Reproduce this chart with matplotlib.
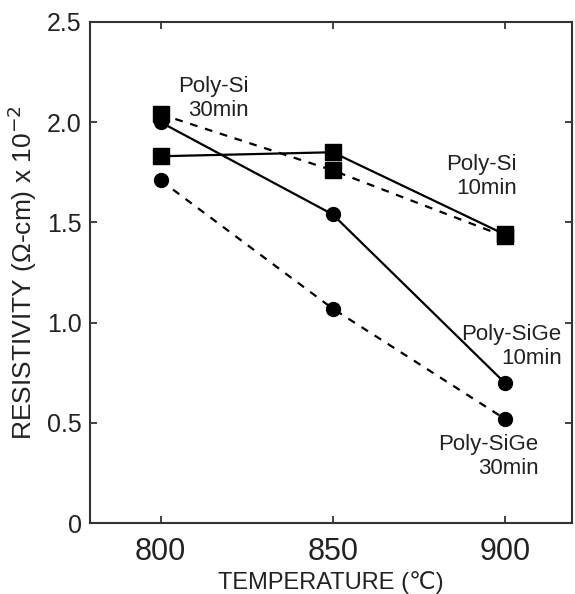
import matplotlib
matplotlib.use('Agg')
import matplotlib.pyplot as plt

plt.rcParams['font.family'] = ['Liberation Sans', 'DejaVu Sans']

# Temperatura de recocido (°C)
temperatura = [800, 850, 900]

# Resistividad (ohm-cm x 1e-2)
polysi_10min = [1.83, 1.85, 1.44]
polysi_30min = [2.04, 1.76, 1.43]
polysige_10min = [2.00, 1.54, 0.70]
polysige_30min = [1.71, 1.07, 0.52]

y_ticks = [0, 0.5, 1.0, 1.5, 2.0, 2.5]
y_tick_labels = ['0', '0.5', '1.0', '1.5', '2.0', '2.5']
x_ticks = [800, 850, 900]

fig = plt.figure(figsize=(5.75, 5.94), dpi=100)
ax = fig.add_axes([0.1565, 0.1195, 0.838, 0.8435])

dash = (0, (3.5, 3.5))
lw = 1.6
ax.plot(temperatura, polysi_30min, color='k', lw=lw, linestyle=dash,
        marker='s', markersize=11, zorder=3)
ax.plot(temperatura, polysi_10min, color='k', lw=lw, linestyle='-',
        marker='s', markersize=11, zorder=3)
ax.plot(temperatura, polysige_30min, color='k', lw=lw, linestyle=dash,
        marker='o', markersize=10, zorder=3)
ax.plot(temperatura, polysige_10min, color='k', lw=lw, linestyle='-',
        marker='o', markersize=10, zorder=3)

# Etiquetas de cada serie
kw = dict(ha='right', va='center', multialignment='right', fontsize=16,
          color='#222222', linespacing=1.2)
ax.text(825.6, 2.12, 'Poly-Si\n30min', **kw)
ax.text(903.6, 1.73, 'Poly-Si\n10min', **kw)
ax.text(916.5, 0.88, 'Poly-SiGe\n10min', **kw)
ax.text(909.8, 0.33, 'Poly-SiGe\n30min', **kw)

ax.set_xlim(779.5, 919.5)
ax.set_ylim(0, 2.5)
ax.set_xticks(x_ticks)
ax.set_yticks(y_ticks)
ax.set_yticklabels(y_tick_labels)
ax.tick_params(direction='in', length=5, width=1.2, top=True, right=True,
               colors='#222222')
ax.tick_params(axis='x', labelsize=22, pad=10)
ax.tick_params(axis='y', labelsize=18, pad=6)
for s in ax.spines.values():
    s.set_linewidth(1.5)
    s.set_color('#333333')

ax.set_xlabel('TEMPERATURE (\u2103)', fontsize=17, color='#222222', labelpad=3)
ax.set_ylabel('RESISTIVITY (\u03a9-cm) x 10$^{-2}$', fontsize=19,
              color='#222222', labelpad=6)

fig.savefig('out.png', dpi=100)
